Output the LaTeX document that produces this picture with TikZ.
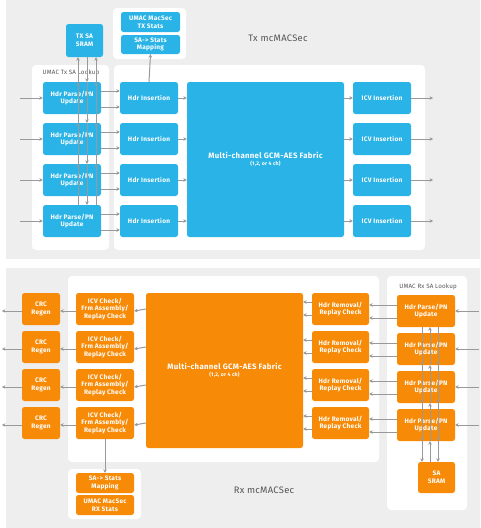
\documentclass[tikz,border=0pt]{standalone}
\usepackage{fontspec}
\setmainfont{Fira Sans}
\newfontfamily\boxfont[LetterSpace=4]{Fira Sans}
\newfontfamily\labfont[LetterSpace=3]{Fira Sans}
\usetikzlibrary{arrows.meta}
\definecolor{bgray}{HTML}{EEEEEE}
\definecolor{txblue}{HTML}{29B3E6}
\definecolor{rxorange}{HTML}{F78B07}
\definecolor{lgray}{HTML}{999999}
\definecolor{tgray}{HTML}{555555}
\begin{document}
\begin{tikzpicture}[x=1pt,y=-1pt,
  panel/.style={fill=bgray},
  cont/.style={fill=white, rounded corners=4pt},
  blk/.style={rounded corners=2.5pt, text=white, align=center, inner sep=0pt,
    font=\boxfont\fontsize{6.5}{7.8}\selectfont\bfseries},
  tx/.style={blk, fill=txblue},
  rx/.style={blk, fill=rxorange},
  conn/.style={draw=lgray, line width=1pt, -{Stealth[length=3.4pt,width=3.6pt]}},
  title/.style={text=tgray, font=\labfont\fontsize{9.4}{11}\selectfont},
  sub/.style={text=tgray, font=\labfont\fontsize{6.2}{7.5}\selectfont}]
\useasboundingbox (0,0) rectangle (480,528);
% panels
\fill[panel] (6,0) rectangle (480,259);
\fill[panel] (6,268) rectangle (480,528);
% containers
\fill[cont] (113,8) rectangle (186,59);
\fill[cont] (32,65) rectangle (109,250);
\fill[cont] (114,65) rectangle (425,250);
\fill[cont] (68,276) rectangle (379,462);
\fill[cont] (387,276) rectangle (467,510);
\fill[cont] (68,469) rectangle (141,519);
% titles
\node[title] (txt) at (278,38) {Tx mcMACSec};
\node[title] (rxt) at (264,490) {Rx mcMACSec};
\node[sub] (txl) at (71,73) {UMAC Tx SA Lookup};
\node[sub] (rxl) at (428,287) {UMAC Rx SA Lookup};
% ---------- Tx ----------
\node[tx, minimum width=37pt, minimum height=33pt] (sram) at (84.5,40.5) {TX SA\\SRAM};
\node[tx, minimum width=59pt, minimum height=20pt] (tstats) at (150.5,22) {UMAC MacSec\\TX Stats};
\node[tx, minimum width=59pt, minimum height=19pt] (tmap) at (150.5,44.5) {SA-> Stats\\Mapping};
\node[tx, minimum width=157pt, minimum height=155pt] (tfab) at (265.5,159.5)
  {\fontsize{7.8}{9.5}\selectfont Multi-channel GCM-AES Fabric\\[-1pt]\fontsize{5.2}{6.5}\selectfont (1,2, or 4 ch)};
\foreach \i/\t in {1/82,2/123,3/164,4/205}{
  \node[tx, minimum width=58pt, minimum height=32pt] (tp\i) at (72,\t+16) {Hdr Parse/PN\\Update};
  \node[tx, minimum width=58pt, minimum height=32pt] (ti\i) at (149,\t+16) {Hdr Insertion};
  \node[tx, minimum width=58pt, minimum height=32pt] (tc\i) at (382,\t+16) {ICV Insertion};
  \coordinate (tin\i) at (20,\t+16);
  \coordinate (tout\i) at (433,\t+16);
  \draw[conn] (tin\i) -- (tp\i.west);
  \draw[conn] ([yshift=-9pt]tp\i.east) -- ([yshift=-9pt]ti\i.west);
  \draw[conn] ([yshift=7pt]tp\i.east) -- ([yshift=7pt]ti\i.west);
  \draw[conn] (ti\i.east) -- (ti\i.east -| tfab.west);
  \draw[conn] (tc\i.west -| tfab.east) -- (tc\i.west);
  \draw[conn] (tc\i.east) -- (tout\i);
}
\draw[conn] (ti1.north) -- (tmap.south);
\coordinate (ta) at (78,0);
\coordinate (tb) at (87,0);
\coordinate (tcc) at (96,0);
\draw[conn] (sram.south -| tb) -- (tp1.north -| tb);
\draw[conn] (tp1.north -| ta) -- (sram.south -| ta);
\draw[conn] (tp1.north -| tcc) -- (sram.south -| tcc);
\foreach \i/\j in {1/2,2/3,3/4}{
  \draw[conn] (tp\i.north -| tb) -- (tp\j.north -| tb);
  \draw[conn] (tp\j.north -| ta) -- (tp\i.north -| ta);
  \draw[conn] (tp\j.north -| tcc) -- (tp\i.north -| tcc);
}
% ---------- Rx ----------
\node[rx, minimum width=157pt, minimum height=155pt] (rfab) at (224.5,370.5)
  {\fontsize{7.8}{9.5}\selectfont Multi-channel GCM-AES Fabric\\[-1pt]\fontsize{5.2}{6.5}\selectfont (1,2, or 4 ch)};
\node[rx, minimum width=37pt, minimum height=31pt] (rsram) at (436.5,477.5) {SA\\SRAM};
\node[rx, minimum width=58pt, minimum height=20pt] (rmap) at (105,483) {SA-> Stats\\Mapping};
\node[rx, minimum width=58pt, minimum height=20pt] (rstats) at (105,505) {UMAC MacSec\\RX Stats};
\foreach \i/\t in {1/293,2/331,3/369,4/407}{
  \node[rx, minimum width=38pt, minimum height=32pt] (rc\i) at (41,\t+16) {CRC\\Regen};
  \node[rx, minimum width=58pt, minimum height=32pt] (rv\i) at (105,\t+16) {ICV Check/\\Frm Assembly/\\Replay Check};
  \node[rx, minimum width=57pt, minimum height=32pt] (rr\i) at (340.5,\t+16) {Hdr Removal/\\Replay Check};
  \node[rx, minimum width=58pt, minimum height=32pt] (rp\i) at (426,\t+18) {Hdr Parse/PN\\Update};
  \coordinate (rin\i) at (479,\t+18);
  \coordinate (rout\i) at (2,\t+18);
  \draw[conn] (rin\i) -- (rp\i.east);
  \draw[conn] ([yshift=-7pt]rp\i.west) -- ([yshift=-7pt]rp\i.west -| rr\i.east);
  \draw[conn] ([yshift=6pt]rp\i.west) -- ([yshift=6pt]rp\i.west -| rr\i.east);
  \draw[conn] ([yshift=-6pt]rr\i.west) -- ([yshift=-6pt]rr\i.west -| rfab.east);
  \draw[conn] ([yshift=7pt]rr\i.west) -- ([yshift=7pt]rr\i.west -| rfab.east);
  \draw[conn] (rv\i.east -| rfab.west) -- ([yshift=-2pt]rv\i.east);
  \draw[conn] ([yshift=-2pt]rv\i.west) -- ([yshift=-2pt]rc\i.east);
  \draw[conn] ([yshift=-2pt]rc\i.west) -- (rout\i);
}
\draw[conn] (rv4.south) -- (rmap.north);
\coordinate (ra) at (422,0);
\coordinate (rb) at (430,0);
\coordinate (rcc) at (438,0);
\foreach \i/\j in {1/2,2/3,3/4}{
  \draw[conn] (rp\i.south -| ra) -- (rp\j.south -| ra);
  \draw[conn] (rp\i.south -| rcc) -- (rp\j.south -| rcc);
  \draw[conn] (rp\j.south -| rb) -- (rp\i.south -| rb);
}
\draw[conn] (rp4.south -| ra) -- (rsram.north -| ra);
\draw[conn] (rp4.south -| rcc) -- (rsram.north -| rcc);
\draw[conn] (rsram.north -| rb) -- (rp4.south -| rb);
\end{tikzpicture}
\end{document}
